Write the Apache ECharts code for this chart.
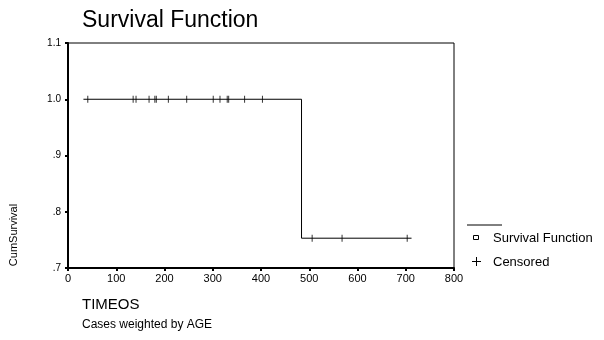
<!DOCTYPE html>
<html>
<head>
<meta charset="utf-8">
<script src="https://cdn.jsdelivr.net/npm/echarts@6/dist/echarts.min.js"></script>
<style>
  html, body { margin: 0; padding: 0; background: #fff; }
  #chart { width: 604px; height: 340px; }
</style>
</head>
<body>
<div id="chart"></div>
<script>
// survival curve: step points (time, cumulative survival)
const curveTimes = [32, 484, 712];
const curveSurvival = [1.0, 0.753, 0.753];

// censored cases
const censoredHigh = [41, 135, 141, 168, 180, 183, 208, 246, 301, 315, 330, 333, 366, 403];
const censoredLow = [506, 568, 703];
const highLevel = 1.0;
const lowLevel = 0.753;

const xTicks = [0, 100, 200, 300, 400, 500, 600, 700, 800];
const yTickLabels = [".7", ".8", ".9", "1.0", "1.1"];

const font = "Liberation Sans, Arial, sans-serif";

const chart = echarts.init(document.getElementById("chart"));

const curveData = curveTimes.map((t, i) => [t, curveSurvival[i]]);
const censoredData = censoredHigh.map(t => [t, highLevel])
  .concat(censoredLow.map(t => [t, lowLevel]));

const option = {
  animation: false,
  backgroundColor: "#fff",
  title: {
    text: "Survival Function",
    left: 82,
    top: 9,
    padding: 0,
    textStyle: { fontFamily: font, fontSize: 23, fontWeight: "normal", color: "#000" }
  },
  grid: {
    left: 68, right: 150, top: 43, bottom: 72,
    show: true, borderColor: "#000", borderWidth: 1
  },
  xAxis: {
    type: "value",
    min: xTicks[0],
    max: xTicks[xTicks.length - 1],
    interval: 100,
    splitLine: { show: false },
    axisLine: { lineStyle: { color: "#000", width: 2 } },
    axisTick: { length: 3, lineStyle: { color: "#000", width: 2 } },
    axisLabel: { color: "#000", fontFamily: font, fontSize: 11, margin: 5 }
  },
  yAxis: {
    type: "value",
    min: 0.7,
    max: 1.1,
    interval: 0.1,
    splitLine: { show: false },
    axisLine: { lineStyle: { color: "#000", width: 2 } },
    axisTick: { length: 3, lineStyle: { color: "#000", width: 2 } },
    axisLabel: {
      color: "#000", fontFamily: font, fontSize: 10, margin: 7,
      formatter: v => yTickLabels[Math.round((v - 0.7) * 10)]
    }
  },
  series: [
    {
      name: "Survival Function",
      type: "line",
      step: "end",
      data: curveData,
      showSymbol: false,
      lineStyle: { color: "#000", width: 1 },
      z: 2
    },
    {
      name: "Censored",
      type: "scatter",
      data: censoredData,
      symbol: "rect",
      symbolSize: [1, 7],
      itemStyle: { color: "#000" },
      z: 3
    }
  ],
  graphic: [
    {
      type: "text",
      x: 14, y: 235,
      rotation: Math.PI / 2,
      style: {
        text: "CumSurvival", fill: "#000", font: "11px " + font,
        textAlign: "center", textVerticalAlign: "middle"
      }
    },
    {
      type: "text",
      x: 82, y: 305,
      style: { text: "TIMEOS", fill: "#000", font: "15px " + font, textVerticalAlign: "middle" }
    },
    {
      type: "text",
      x: 82, y: 325,
      style: { text: "Cases weighted by AGE", fill: "#000", font: "12px " + font, textVerticalAlign: "middle" }
    },
    {
      type: "line",
      shape: { x1: 467, y1: 225, x2: 502, y2: 225 },
      style: { stroke: "#000", lineWidth: 1 }
    },
    {
      type: "rect",
      shape: { x: 473.5, y: 235.5, width: 5, height: 4 },
      style: { fill: "#fff", stroke: "#000", lineWidth: 1 }
    },
    {
      type: "text",
      x: 493, y: 238,
      style: { text: "Survival Function", fill: "#000", font: "13px " + font, textVerticalAlign: "middle" }
    },
    {
      type: "line",
      shape: { x1: 472, y1: 261.5, x2: 481, y2: 261.5 },
      style: { stroke: "#000", lineWidth: 1 }
    },
    {
      type: "line",
      shape: { x1: 476.5, y1: 257, x2: 476.5, y2: 266 },
      style: { stroke: "#000", lineWidth: 1 }
    },
    {
      type: "text",
      x: 493, y: 262,
      style: { text: "Censored", fill: "#000", font: "13px " + font, textVerticalAlign: "middle" }
    }
  ]
};

chart.setOption(option);
</script>
</body>
</html>
